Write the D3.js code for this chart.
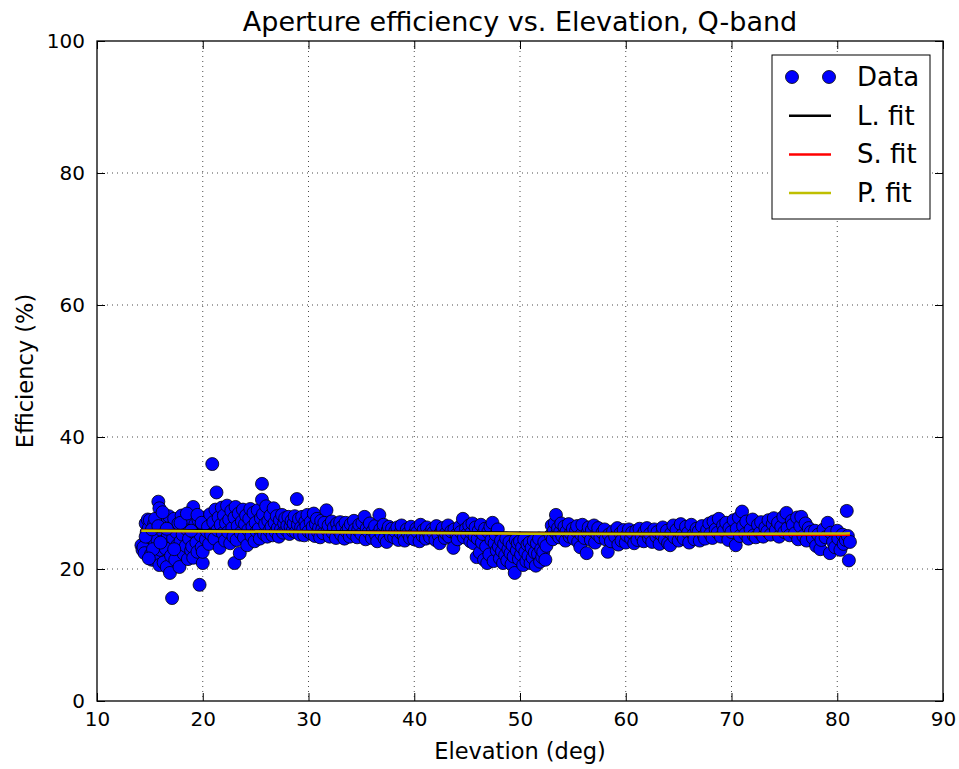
<!DOCTYPE html>
<html>
<head>
<meta charset="utf-8">
<script src="https://cdn.jsdelivr.net/npm/d3@7"></script>
<style>
  body { margin: 0; background: #fff; }
  svg { font-family: "DejaVu Sans", sans-serif; }
</style>
</head>
<body>
<svg id="chart" width="959" height="769"></svg>
<script>
// values
var titleText = "Aperture efficiency vs. Elevation, Q-band";
var xTicks = [10, 20, 30, 40, 50, 60, 70, 80, 90];
var yTicks = [0, 20, 40, 60, 80, 100];
var legendNames = ["Data", "L. fit", "S. fit", "P. fit"];

// fit curves (elevation, efficiency)
var fitL = [[14.2, 25.9], [81.2, 25.2]];
var fitS = [[14.2, 25.8], [30, 25.6], [50, 25.35], [65, 25.25], [81.2, 25.2]];
var fitP = [[14.2, 25.8], [30, 25.6], [50, 25.35], [65, 25.3], [81.2, 25.4]];

// measured points [elevation, efficiency]
var points = [
[14.2,23.6],[14.3,22.9],[14.4,23.3],[14.5,22.4],[14.6,26.9],[14.7,25.6],[14.8,27.5],[14.9,26.2],[15.0,24.8],[15.0,27.4],
[15.1,22.2],[15.2,21.4],[15.3,25.3],[15.4,26.8],[15.5,23.8],[15.6,21.8],[15.7,24.5],[15.8,30.2],[15.9,29.2],[15.9,20.6],
[16.0,27.9],[16.0,22.9],[16.1,25.9],[16.2,24.1],[16.3,21.0],[16.4,26.6],[16.5,27.3],[16.5,23.1],[16.6,20.3],[16.7,25.0],
[16.8,28.0],[16.9,19.4],[17.0,22.0],[17.1,15.6],[17.1,26.4],[17.2,24.7],[17.3,27.6],[17.4,21.4],[17.5,25.6],[17.6,23.6],
[17.7,26.9],[17.8,20.3],[17.9,24.2],[18.0,28.1],[18.1,25.2],[18.2,22.3],[18.3,27.0],[18.4,23.5],[18.5,26.0],[18.6,21.5],
[18.7,24.6],[18.8,27.7],[18.9,22.8],[19.0,23.4],[19.1,29.4],[19.1,21.7],[19.2,25.5],[19.3,26.8],[19.4,24.0],[19.5,22.6],
[19.6,27.4],[19.7,17.6],[19.8,25.1],[19.9,23.3],[20.0,20.9],[20.0,22.6],[20.1,26.3],[20.2,27.8],[20.3,24.5],[20.4,25.7],
[14.6,24.9],[15.2,26.0],[15.5,27.6],[15.8,26.5],[16.2,28.6],[15.3,23.0],[14.9,21.6],[16.6,26.1],[17.9,27.0],[18.5,28.4],
[19.5,28.2],[17.3,23.0],[16.0,24.0],[18.9,25.8],[19.9,27.0],
[20.5,26.4],[20.6,23.8],[20.7,28.3],[20.8,25.2],[20.9,35.9],[21.0,27.1],[21.1,24.6],[21.2,29.0],[21.3,31.6],[21.4,25.9],
[21.5,27.8],[21.6,23.2],[21.7,26.7],[21.8,29.3],[21.9,25.4],[22.0,28.1],[22.1,24.3],[22.2,26.9],[22.3,29.6],[22.4,25.6],
[22.5,27.5],[22.6,23.9],[22.7,28.8],[22.8,26.2],[22.9,24.9],[23.0,20.9],[23.0,27.8],[23.1,29.4],[23.2,24.4],[23.3,26.5],
[23.4,28.4],[23.5,22.4],[23.6,25.5],[23.7,27.2],[23.8,29.0],[23.9,24.8],[24.0,26.8],[24.1,28.1],[24.2,23.6],[24.3,25.9],
[24.4,27.6],[24.5,29.1],[24.6,25.0],[24.7,26.4],[24.8,28.5],[24.9,24.2],[25.0,27.0],[25.1,25.7],[25.2,28.9],[25.3,26.1],
[25.4,24.6],[25.5,27.7],[25.6,32.9],[25.6,30.5],[25.7,28.3],[25.8,25.3],[25.9,26.8],[26.0,29.5],[26.1,24.9],[26.2,27.3],
[26.3,25.8],[26.4,28.1],[26.5,26.4],[26.6,25.1],[26.7,29.2],[26.8,27.0],[26.9,25.6],[27.0,28.0],[27.1,26.2],[27.2,24.9],
[27.3,27.4],[27.4,26.0],[27.5,28.2],[27.6,25.5],[27.7,26.9],[27.8,27.7],[27.9,25.9],[28.0,26.6],[28.1,27.9],[28.2,25.3],
[28.3,26.4],[28.4,27.3],[28.5,25.8],[28.6,26.9],[28.7,28.0],[28.8,25.6],[28.9,30.6],[29.0,26.7],[29.1,27.6],[29.2,25.2],
[29.3,26.3],[29.4,27.9],[29.5,26.0],[29.6,25.1],[29.7,27.2],[29.8,26.5],[29.9,28.2],[30.0,25.7],
[30.2,27.1],[30.3,25.3],[30.4,26.4],[30.5,28.4],[30.6,25.0],[30.7,26.8],[30.8,27.6],[30.9,25.6],[31.0,26.2],[31.1,24.8],
[31.2,27.3],[31.3,26.0],[31.4,25.4],[31.5,27.0],[31.7,28.9],[31.8,25.8],[31.9,26.6],[32.0,24.9],[32.2,27.2],[32.3,25.5],
[32.4,26.3],[32.6,24.7],[32.7,26.9],[32.8,25.9],[33.0,27.1],[33.1,25.2],[33.2,26.4],[33.4,24.6],[33.5,27.0],[33.6,25.7],
[33.8,26.2],[33.9,24.9],[34.0,26.8],[34.2,25.4],[34.3,27.3],[34.4,26.0],[34.6,24.8],[34.7,25.9],[34.8,26.7],[35.0,25.3],
[35.1,27.0],[35.3,27.9],[35.4,24.5],[35.5,26.1],[35.7,25.6],[35.8,26.9],[36.0,24.7],[36.1,25.8],[36.3,26.5],[36.4,25.1],
[36.5,24.2],[36.7,28.2],[36.8,26.0],[36.9,25.3],[37.1,26.7],[37.2,24.6],[37.4,24.1],[37.5,25.9],[37.6,26.4],[37.8,25.0],
[37.9,26.1],[38.1,24.8],[38.2,25.7],[38.4,26.3],[38.5,24.4],[38.7,25.5],[38.8,26.6],[39.0,25.0],[39.1,24.3],[39.3,26.0],
[39.4,25.4],[39.6,24.7],[39.7,26.4],[39.9,25.2],[40.0,24.5],[40.2,26.1],[40.3,25.6],[40.5,24.2],[40.6,26.7],[40.8,25.0],
[40.9,25.9],[41.1,24.6],[41.2,26.3],[41.4,25.3],[41.5,24.8],[41.7,26.0],[41.8,25.5],[42.0,24.4],[42.1,26.5],[42.3,25.1],
[42.4,23.9],[42.6,25.8],[42.7,26.2],[42.9,24.7],[43.0,25.4],[43.2,26.6],[43.3,24.9],[43.5,25.7],[43.7,23.2],[43.8,26.0],
[44.0,25.2],[44.1,24.5],[44.3,26.4],[44.4,25.6],[44.6,27.6],[44.7,24.8],[44.9,26.1],[45.0,25.3],
[45.2,26.6],[45.3,24.2],[45.4,25.5],[45.5,26.9],[45.6,23.9],[45.7,25.0],[45.8,26.3],[45.9,21.8],[46.0,24.6],[46.1,25.8],
[46.2,22.5],[46.3,26.7],[46.4,24.0],[46.5,25.3],[46.6,21.4],[46.7,26.1],[46.8,23.4],[46.9,20.9],[47.0,25.6],[47.1,22.2],
[47.2,26.4],[47.3,24.4],[47.4,27.0],[47.5,21.2],[47.6,23.9],[47.7,25.2],[47.8,22.8],[47.9,26.0],
[48.0,23.4],[48.1,21.6],[48.2,24.3],[48.3,22.7],[48.4,20.9],[48.5,23.8],[48.6,22.1],[48.7,24.6],[48.8,21.3],[48.9,23.0],
[49.0,24.1],[49.1,22.4],[49.2,20.7],[49.3,23.6],[49.4,21.9],[49.5,19.4],[49.6,24.4],[49.7,22.8],[49.8,23.9],[49.9,21.5],
[50.0,24.2],[50.1,22.2],[50.2,23.3],[50.3,20.6],[50.4,24.5],[50.5,22.6],[50.6,21.2],[50.7,23.7],[50.8,22.0],[50.9,24.0],
[51.0,20.9],[51.1,23.2],[51.2,21.7],[51.3,24.3],[51.4,22.5],[51.5,20.5],[51.6,23.9],[51.7,22.3],[51.8,24.6],[51.9,21.1],
[52.0,23.0],[52.1,21.8],[52.2,22.6],[52.3,24.1],[52.4,21.4],[52.5,23.5],
[52.9,25.1],[53.0,26.6],[53.1,24.5],[53.2,25.8],[53.3,27.0],[53.4,28.2],[53.5,25.3],[53.6,26.2],[53.7,24.8],[53.8,25.6],
[53.9,26.9],[54.0,25.0],[54.2,26.4],[54.3,24.3],[54.4,25.7],[54.6,26.8],[54.7,24.9],[54.8,25.4],[55.0,26.1],[55.1,24.6],
[55.3,25.8],[55.4,26.5],[55.5,24.1],[55.7,23.3],[55.8,25.2],[55.9,26.7],[56.1,24.7],[56.3,22.4],[56.4,25.5],[56.5,26.3],
[56.7,24.4],[56.8,25.9],[57.0,26.6],[57.1,24.0],[57.3,25.3],[57.4,26.2],[57.6,24.8],[57.8,25.5],[58.0,26.0],[58.1,24.5],
[58.3,22.6],[58.4,25.2],[58.6,24.2],[58.8,25.7],[59.0,24.9],
[59.2,26.2],[59.3,23.7],[59.5,25.4],[59.6,24.3],[59.8,25.9],[60.0,24.0],[60.1,25.1],[60.3,26.0],[60.5,24.6],[60.6,25.5],
[60.8,23.9],[61.0,25.8],[61.1,24.4],[61.3,26.1],[61.5,25.0],[61.7,24.2],[61.8,25.7],[62.0,26.2],[62.2,24.7],[62.3,25.3],
[62.5,24.1],[62.7,26.0],[62.9,24.9],[63.0,25.6],[63.2,23.8],[63.4,25.2],[63.5,26.3],[63.7,24.5],[63.9,25.8],[64.0,23.9],
[64.2,23.6],[64.3,25.4],[64.5,26.6],[64.6,24.8],[64.8,25.9],[65.0,24.3],[65.2,26.8],[65.3,25.1],[65.5,24.6],[65.7,26.4],
[65.9,25.5],[66.0,24.0],[66.2,26.7],[66.4,25.2],[66.5,24.5],[66.7,26.1],[66.9,25.7],[67.0,24.3],[67.2,26.5],[67.4,25.0],
[67.5,24.6],[67.7,25.9],[67.9,26.9],[68.0,25.3],[68.2,24.7],[68.3,27.2],[68.5,26.0],[68.7,25.5],[68.8,27.6],[69.0,24.9],
[69.2,26.6],[69.3,25.8],[69.5,27.0],[69.7,24.4],[69.8,26.2],[70.0,25.6],[70.2,27.4],[70.4,23.6],[70.5,26.1],[70.7,27.8],
[70.8,25.0],[71.0,28.7],[71.1,26.5],[71.3,25.3],[71.4,27.2],[71.6,24.6],[71.8,26.0],[72.0,27.5],[72.1,25.1],[72.3,24.8],
[72.5,26.7],[72.7,25.5],[72.8,27.1],[73.0,24.9],[73.2,26.3],[73.4,25.7],[73.5,27.4],[73.7,25.2],[73.9,26.8],[74.0,27.7],
[74.2,25.9],[74.4,27.0],[74.5,24.9],[74.7,26.4],[74.9,27.9],[75.0,25.6],[75.2,28.5],[75.3,26.2],[75.5,25.1],[75.7,27.3],
[75.8,26.7],[76.0,25.4],[76.2,27.8],[76.3,24.5],[76.5,26.5],[76.6,27.9],[76.8,25.0],[77.0,26.9],[77.1,24.3],[77.3,26.2],
[77.5,25.6],[77.7,24.7],[77.9,25.8],[78.0,23.5],[78.2,25.2],[78.4,23.0],[78.5,24.4],[78.7,26.0],[78.9,24.8],[79.1,27.0],
[79.3,22.4],[79.4,25.5],[79.6,24.1],[79.8,23.3],[80.0,25.8],[80.1,24.6],[80.3,22.9],[80.5,25.2],[80.6,23.8],[80.8,24.4],
[80.9,28.8],[81.0,25.0],[81.1,21.3],[81.2,24.1]
];

var svg = d3.select("#chart");
var margin = {left: 97, top: 41, right: 16, bottom: 68};
var width = 959 - margin.left - margin.right;
var height = 769 - margin.top - margin.bottom;

var x = d3.scaleLinear().domain([10, 90]).range([0, width]);
var y = d3.scaleLinear().domain([0, 100]).range([height, 0]);

var g = svg.append("g").attr("transform", "translate(" + margin.left + "," + margin.top + ")");

// grid, dotted like matplotlib classic
g.append("g").selectAll("line").data(xTicks.slice(1, -1)).join("line")
  .attr("x1", d => x(d)).attr("x2", d => x(d)).attr("y1", 0).attr("y2", height)
  .attr("stroke", "#000").attr("stroke-width", 1).attr("stroke-dasharray", "1,4").attr("opacity", 0.7);
g.append("g").selectAll("line").data(yTicks.slice(1, -1)).join("line")
  .attr("y1", d => y(d)).attr("y2", d => y(d)).attr("x1", 0).attr("x2", width)
  .attr("stroke", "#000").attr("stroke-width", 1).attr("stroke-dasharray", "1,4").attr("opacity", 0.7);

// points
g.append("clipPath").attr("id", "clip").append("rect").attr("width", width).attr("height", height);
g.append("g").attr("clip-path", "url(#clip)").selectAll("circle").data(points).join("circle")
  .attr("cx", d => x(d[0])).attr("cy", d => y(d[1])).attr("r", 6.5)
  .attr("fill", "#0000ff").attr("stroke", "#000").attr("stroke-width", 0.8);

// fit lines
var line = d3.line().x(d => x(d[0])).y(d => y(d[1])).curve(d3.curveMonotoneX);
g.append("path").datum(fitL).attr("d", line).attr("fill", "none").attr("stroke", "#000").attr("stroke-width", 2.5);
g.append("path").datum(fitS).attr("d", line).attr("fill", "none").attr("stroke", "#ff0000").attr("stroke-width", 2.5);
g.append("path").datum(fitP).attr("d", line).attr("fill", "none").attr("stroke", "#bfbf00").attr("stroke-width", 2.5);

// axes: ticks inside on all four sides
var tickLen = 8;
var xb = g.append("g").attr("transform", "translate(0," + height + ")")
  .call(d3.axisBottom(x).tickValues(xTicks).tickSize(-tickLen).tickPadding(11));
var xt = g.append("g").call(d3.axisTop(x).tickValues(xTicks).tickSize(-tickLen).tickFormat(""));
var yl = g.append("g").call(d3.axisLeft(y).tickValues(yTicks).tickSize(-tickLen).tickPadding(12));
var yr = g.append("g").attr("transform", "translate(" + width + ",0)")
  .call(d3.axisRight(y).tickValues(yTicks).tickSize(-tickLen).tickFormat(""));
[xb, xt, yl, yr].forEach(function(a) {
  a.select(".domain").remove();
  a.selectAll(".tick line").attr("stroke", "#000").attr("stroke-width", 1);
  a.selectAll("text").attr("font-size", 20).attr("fill", "#000").attr("font-family", "DejaVu Sans");
});
g.append("rect").attr("width", width).attr("height", height)
  .attr("fill", "none").attr("stroke", "#000").attr("stroke-width", 1.3);

// labels
svg.append("text").attr("x", margin.left + width / 2).attr("y", 31).attr("text-anchor", "middle")
  .attr("font-size", 27).text(titleText);
svg.append("text").attr("x", margin.left + width / 2).attr("y", 759).attr("text-anchor", "middle")
  .attr("font-size", 22.5).text("Elevation (deg)");
svg.append("text").attr("transform", "translate(33," + (margin.top + height / 2) + ") rotate(-90)")
  .attr("text-anchor", "middle").attr("font-size", 22.5).text("Efficiency (%)");

// legend
var lg = svg.append("g").attr("transform", "translate(772,55)");
lg.append("rect").attr("width", 158).attr("height", 164).attr("fill", "#fff").attr("stroke", "#000").attr("stroke-width", 1);
var legColors = [null, "#000", "#ff0000", "#bfbf00"];
legendNames.forEach(function(name, i) {
  var cy = 22 + i * 38.7;
  if (i === 0) {
    [20, 57].forEach(function(cx) {
      lg.append("circle").attr("cx", cx).attr("cy", cy).attr("r", 6.5)
        .attr("fill", "#0000ff").attr("stroke", "#000").attr("stroke-width", 0.8);
    });
  } else {
    lg.append("line").attr("x1", 17).attr("x2", 59).attr("y1", cy).attr("y2", cy)
      .attr("stroke", legColors[i]).attr("stroke-width", 2.5);
  }
  lg.append("text").attr("x", 85).attr("y", cy + 9).attr("font-size", 26).text(name);
});
</script>
</body>
</html>
